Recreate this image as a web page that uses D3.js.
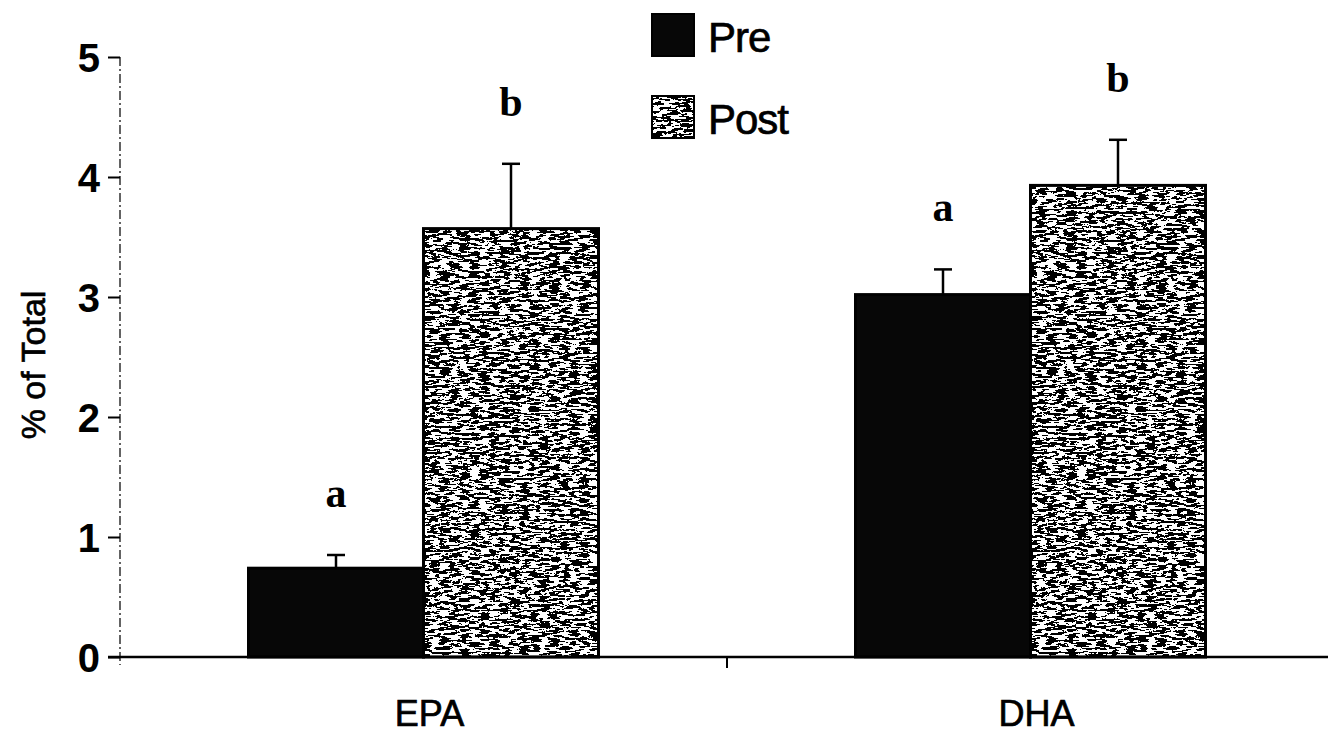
<!DOCTYPE html>
<html>
<head>
<meta charset="utf-8">
<script src="https://cdn.jsdelivr.net/npm/d3@7"></script>
<style>
  html, body { margin: 0; padding: 0; background: #fff; }
  svg { display: block; }
</style>
</head>
<body>
<svg id="chart" width="1328" height="737"></svg>
<script>
/* global d3 */

// data
const categories = ['EPA', 'DHA']
const series = ['Pre', 'Post']
const preValues = [0.74, 3.02]
const postValues = [3.57, 3.93]
const preErrors = [0.11, 0.21]
const postErrors = [0.54, 0.38]
const preLetters = ['a', 'a']
const postLetters = ['b', 'b']
const yTicks = [0, 1, 2, 3, 4, 5]

let W = 1328
let H = 737
let m = {left: 120, right: -6, top: 57, bottom: 80}
let sans = 'Liberation Sans, Arial, sans-serif'

let svg = d3.select('#chart')
let defs = svg.append('defs')

// streaky speckled texture for "Post"
let f = defs.append('filter')
  .attr('id', 'speckle')
  .attr('x', 0).attr('y', 0).attr('width', 1).attr('height', 1)
  .attr('color-interpolation-filters', 'sRGB')
f.append('feTurbulence')
  .attr('type', 'fractalNoise')
  .attr('baseFrequency', '0.1 0.42')
  .attr('numOctaves', 4)
  .attr('seed', 7)
  .attr('result', 't')
f.append('feColorMatrix')
  .attr('in', 't')
  .attr('type', 'luminanceToAlpha')
  .attr('result', 'l')
f.append('feComponentTransfer')
  .attr('in', 'l')
  .attr('result', 'k')
  .append('feFuncA')
  .attr('type', 'discrete')
  .attr('tableValues', '0 0 0 0 0 1 1 1 1 1')
f.append('feFlood').attr('flood-color', '#ffffff').attr('result', 'w')
f.append('feComposite').attr('in', 'k').attr('in2', 'w').attr('operator', 'over').attr('result', 'mix')
f.append('feComposite').attr('in', 'mix').attr('in2', 'SourceAlpha').attr('operator', 'in')

let x0 = d3.scaleBand()
  .domain(categories)
  .range([m.left, W - m.right])

let groupW = 350
let x1 = d3.scaleBand()
  .domain(series)
  .range([(x0.bandwidth() - groupW) / 2, (x0.bandwidth() + groupW) / 2])

let y = d3.scaleLinear()
  .domain([0, 5])
  .range([H - m.bottom, m.top])

let rows = categories.map((c, i) => ({
  cat: c,
  vals: [
    {key: 'Pre', v: preValues[i], e: preErrors[i], l: preLetters[i]},
    {key: 'Post', v: postValues[i], e: postErrors[i], l: postLetters[i]}
  ]
}))

// y axis (dash-dot line)
svg.append('line')
  .attr('x1', m.left).attr('x2', m.left)
  .attr('y1', y(5)).attr('y2', y(0) + 8)
  .attr('stroke', '#222')
  .attr('stroke-width', 1.4)
  .attr('stroke-dasharray', '9,3,2,3')

let yAxis = svg.append('g')
  .attr('transform', 'translate(' + m.left + ',0)')
  .call(d3.axisLeft(y).tickValues(yTicks).tickSize(12).tickPadding(8).tickFormat(d3.format('d')))
yAxis.select('.domain').remove()
yAxis.selectAll('.tick line').attr('stroke', '#000').attr('stroke-width', 2)
yAxis.selectAll('.tick text')
  .style('font-family', sans)
  .style('font-size', '40px')
  .style('font-weight', 'bold')
  .attr('fill', '#000')
  .attr('dy', '0.36em')

// bars
let g = svg.selectAll('.grp')
  .data(rows)
  .enter().append('g')
  .attr('class', 'grp')
  .attr('transform', d => 'translate(' + x0(d.cat) + ',0)')

g.selectAll('rect.bar')
  .data(d => d.vals)
  .enter().append('rect')
  .attr('class', 'bar')
  .attr('x', d => x1(d.key))
  .attr('y', d => y(d.v))
  .attr('width', x1.bandwidth())
  .attr('height', d => y(0) - y(d.v))
  .attr('fill', d => d.key === 'Pre' ? '#070707' : '#fff')
  .attr('filter', d => d.key === 'Post' ? 'url(#speckle)' : null)

g.selectAll('rect.outline')
  .data(d => d.vals)
  .enter().append('rect')
  .attr('class', 'outline')
  .attr('x', d => x1(d.key))
  .attr('y', d => y(d.v))
  .attr('width', x1.bandwidth())
  .attr('height', d => y(0) - y(d.v))
  .attr('fill', 'none')
  .attr('stroke', '#000')
  .attr('stroke-width', 3)

// error bars
g.selectAll('line.err')
  .data(d => d.vals)
  .enter().append('line')
  .attr('class', 'err')
  .attr('x1', d => x1(d.key) + x1.bandwidth() / 2)
  .attr('x2', d => x1(d.key) + x1.bandwidth() / 2)
  .attr('y1', d => y(d.v))
  .attr('y2', d => y(d.v + d.e))
  .attr('stroke', '#000')
  .attr('stroke-width', 2.5)

g.selectAll('line.cap')
  .data(d => d.vals)
  .enter().append('line')
  .attr('class', 'cap')
  .attr('x1', d => x1(d.key) + x1.bandwidth() / 2 - 9)
  .attr('x2', d => x1(d.key) + x1.bandwidth() / 2 + 9)
  .attr('y1', d => y(d.v + d.e))
  .attr('y2', d => y(d.v + d.e))
  .attr('stroke', '#000')
  .attr('stroke-width', 2.5)

// significance letters
g.selectAll('text.sig')
  .data(d => d.vals)
  .enter().append('text')
  .attr('class', 'sig')
  .text(d => d.l)
  .attr('x', d => x1(d.key) + x1.bandwidth() / 2)
  .attr('y', d => y(d.v + d.e) - 48)
  .attr('text-anchor', 'middle')
  .style('font-family', 'Liberation Serif, Times New Roman, serif')
  .style('font-weight', 'bold')
  .style('font-size', '42px')
  .attr('fill', '#000')

// x axis
svg.append('line')
  .attr('x1', m.left - 12).attr('x2', W)
  .attr('y1', y(0)).attr('y2', y(0))
  .attr('stroke', '#000')
  .attr('stroke-width', 2.5)

svg.append('line')
  .attr('x1', x0('DHA')).attr('x2', x0('DHA'))
  .attr('y1', y(0)).attr('y2', y(0) + 11)
  .attr('stroke', '#000')
  .attr('stroke-width', 2)

svg.selectAll('text.xlab')
  .data(categories)
  .enter().append('text')
  .attr('class', 'xlab')
  .text(d => d)
  .attr('x', d => x0(d) + x0.bandwidth() / 2 + 6)
  .attr('y', 726)
  .attr('text-anchor', 'middle')
  .style('font-family', sans)
  .style('font-size', '36px')
  .attr('fill', '#000')
  .attr('stroke', '#000')
  .attr('stroke-width', 0.7)

// y title
svg.append('text')
  .text('% of Total')
  .attr('transform', 'translate(45,' + 365 + ') rotate(-90)')
  .attr('text-anchor', 'middle')
  .style('font-family', sans)
  .style('font-size', '34px')
  .attr('fill', '#000')
  .attr('stroke', '#000')
  .attr('stroke-width', 0.7)

// legend
let leg = svg.append('g').attr('transform', 'translate(652,14)')
let li = leg.selectAll('g')
  .data(series)
  .enter().append('g')
  .attr('transform', (d, i) => 'translate(0,' + (i * 82) + ')')
li.append('rect')
  .attr('width', 42).attr('height', 42)
  .attr('fill', d => d === 'Pre' ? '#070707' : '#fff')
  .attr('filter', d => d === 'Post' ? 'url(#speckle)' : null)
li.append('rect')
  .attr('width', 42).attr('height', 42)
  .attr('fill', 'none')
  .attr('stroke', '#000')
  .attr('stroke-width', 2)
li.append('text')
  .text(d => d)
  .attr('x', 56)
  .attr('y', 38)
  .style('font-family', sans)
  .style('font-size', '42px')
  .style('letter-spacing', '-1px')
  .attr('fill', '#000')
  .attr('stroke', '#000')
  .attr('stroke-width', 0.7)
</script>
</body>
</html>
